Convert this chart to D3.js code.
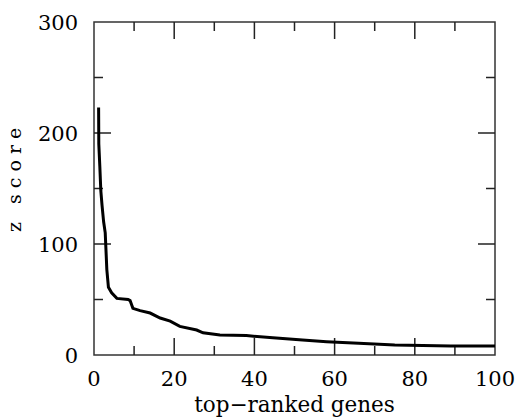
<!DOCTYPE html>
<html>
<head>
<meta charset="utf-8">
<script src="https://cdn.jsdelivr.net/npm/d3@7"></script>
<style>
  body { margin: 0; background: #fff; }
  svg text { font-family: "DejaVu Serif", serif; fill: #000; }
</style>
</head>
<body>
<div id="chart"></div>
<script>
  // rank of gene (x) and its z score (y)
  const ranks  = [1.15, 1.2, 1.45, 1.7, 2.0, 2.4, 2.8, 3.2, 3.6, 4.4, 5.7, 8.5, 9.0, 9.7, 11.5, 14, 16.5, 19, 21.4, 25.6, 27.2, 31.4, 38, 44.6, 52, 58, 66, 75, 89, 100];
  const zscore = [223, 190, 170, 148, 135, 120, 110, 77, 61, 56, 51, 50, 49, 42, 40, 37.8, 33.3, 30.5, 25.8, 22.5, 20, 18, 17.5, 15.5, 13.5, 12, 10.5, 9, 8, 8];

  const xTicks = [0, 20, 40, 60, 80, 100];
  const xMinor = [10, 30, 50, 70, 90];
  const yTicks = [0, 100, 200, 300];
  const yMinor = [50, 150, 250];

  var width = 516,
      height = 420;

  var margin = { top: 22, right: 21, bottom: 65, left: 94 },
      iwidth = width - margin.left - margin.right,
      iheight = height - margin.top - margin.bottom;

  var svg = d3.select("#chart")
    .append("svg")
    .attr("width", width)
    .attr("height", height);

  var g = svg.append("g")
    .attr("transform", `translate(${margin.left},${margin.top})`);

  var x = d3.scaleLinear().domain([0, 100]).range([0, iwidth]);
  var y = d3.scaleLinear().domain([0, 300]).range([iheight, 0]);

  // frame
  g.append("rect")
    .attr("width", iwidth)
    .attr("height", iheight)
    .attr("fill", "none")
    .attr("stroke", "#333")
    .attr("stroke-width", 1.5);

  const major = 17, minor = 9;

  // ticks on all sides, pointing inward
  function hticks(vals, len) {
    vals.forEach(v => {
      g.append("line").attr("x1", x(v)).attr("x2", x(v))
        .attr("y1", iheight).attr("y2", iheight - len)
        .attr("stroke", "#222").attr("stroke-width", 1.5);
      g.append("line").attr("x1", x(v)).attr("x2", x(v))
        .attr("y1", 0).attr("y2", len)
        .attr("stroke", "#222").attr("stroke-width", 1.5);
    });
  }
  function vticks(vals, len) {
    vals.forEach(v => {
      g.append("line").attr("x1", 0).attr("x2", len)
        .attr("y1", y(v)).attr("y2", y(v))
        .attr("stroke", "#222").attr("stroke-width", 1.5);
      g.append("line").attr("x1", iwidth).attr("x2", iwidth - len)
        .attr("y1", y(v)).attr("y2", y(v))
        .attr("stroke", "#222").attr("stroke-width", 1.5);
    });
  }
  hticks(xTicks.slice(1, -1), major);
  hticks(xMinor, minor);
  vticks(yTicks.slice(1, -1), major);
  vticks(yMinor, minor);

  // tick labels
  g.selectAll(".xlab")
    .data(xTicks)
    .enter()
    .append("text")
    .attr("x", d => x(d))
    .attr("y", iheight + 31)
    .attr("text-anchor", "middle")
    .style("font-size", "21px")
    .text(d => d);

  g.selectAll(".ylab")
    .data(yTicks)
    .enter()
    .append("text")
    .attr("x", -16)
    .attr("y", d => y(d) + 8)
    .attr("text-anchor", "end")
    .style("font-size", "21px")
    .text(d => d);

  // axis titles
  svg.append("text")
    .attr("x", margin.left + iwidth / 2)
    .attr("y", 412)
    .attr("text-anchor", "middle")
    .style("font-size", "21.5px")
    .text("top\u2212ranked genes");

  svg.append("text")
    .attr("transform", "translate(21,232)rotate(-90)")
    .attr("text-anchor", "start")
    .style("font-size", "19px")
    .style("letter-spacing", "6px")
    .text("z score");

  // curve
  var line = d3.line()
    .x((d, i) => x(ranks[i]))
    .y(d => y(d));

  g.append("path")
    .datum(zscore)
    .attr("fill", "none")
    .attr("stroke", "#000")
    .attr("stroke-width", 3)
    .attr("d", line);
</script>
</body>
</html>
